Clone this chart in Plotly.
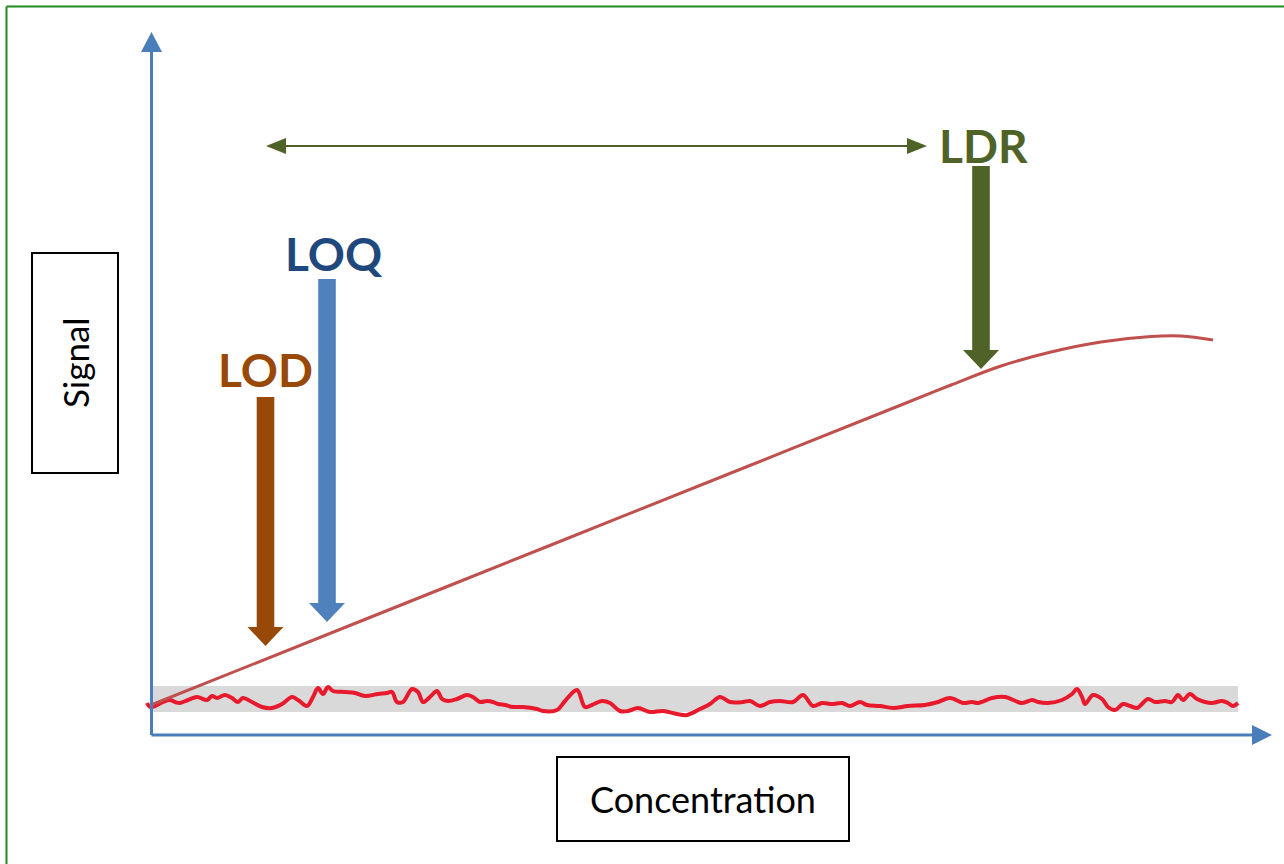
import plotly.graph_objects as go

# ---------------- data (arbitrary units: concentration, signal) ----------------
noise_conc = [-0.4, -0.1, 0.4, 1.2, 1.9, 2.4, 2.9, 3.7, 4.6, 5.6, 6.1, 6.6, 7.4, 8.1, 8.7, 9.2,
              10.1, 11.1, 12.1, 13.1, 14.1, 14.7, 15.6, 16.2, 16.7, 17.2, 17.7, 18.2, 19.4, 20.4,
              21.4, 22.7, 23.6, 24.1, 24.6, 25.2, 26.1, 26.7, 27.2, 27.9, 28.6, 29.1, 29.7, 30.6,
              31.6, 32.2, 32.9, 33.6, 34.2, 34.7, 35.4, 36.2, 37.2, 38.6, 39.2, 40.6, 41.4, 42.6,
              43.4, 44.1, 45.1, 45.9, 46.9, 47.7, 48.7, 49.9, 51.2, 52.6, 53.6, 54.9, 55.9, 56.9,
              57.9, 59.2, 59.9, 60.9, 61.9, 62.9, 64.2, 65.2, 66.2, 67.1, 68.1, 69.1, 69.9, 70.9,
              71.6, 72.9, 74.2, 75.7, 77.4, 78.7, 79.9, 81.2, 82.1, 82.7, 84.1, 85.4, 87.1, 88.1,
              88.7, 89.7, 91.1, 92.1, 92.6, 93.1, 93.4, 94.2, 95.1, 95.7, 96.4, 97.2, 97.9, 98.6,
              98.9, 99.7, 100.4, 101.4, 102.1, 102.7, 103.2, 103.9, 104.6, 105.4, 106.1, 107.1,
              107.7, 108.2, 108.7]
noise_signal = [3.3, 2.9, 3.0, 3.4, 3.6, 3.4, 3.3, 3.6, 3.9, 3.6, 4.0, 3.8, 4.1, 3.8, 3.4, 3.8,
                3.4, 2.9, 2.8, 3.2, 3.9, 3.6, 3.0, 3.9, 4.8, 4.2, 4.9, 4.5, 4.4, 4.3,
                4.0, 4.2, 4.3, 4.4, 3.4, 3.4, 4.7, 4.4, 3.4, 3.9, 4.5, 3.7, 3.5, 3.7,
                4.1, 3.9, 3.4, 3.5, 3.4, 3.2, 3.1, 2.9, 2.9, 2.7, 2.5, 2.6, 3.5, 4.6,
                2.9, 3.1, 3.5, 3.3, 2.5, 2.5, 2.8, 2.4, 2.5, 2.2, 2.1, 2.7, 3.2, 3.9,
                3.4, 3.4, 3.5, 3.0, 3.4, 3.5, 3.4, 4.1, 3.0, 3.3, 3.2, 3.3, 3.0, 3.4,
                3.1, 3.0, 2.8, 3.0, 3.1, 3.4, 3.8, 3.3, 3.4, 3.3, 3.8, 3.9, 3.3, 3.6,
                3.4, 3.3, 3.6, 4.2, 4.7, 3.9, 3.2, 4.1, 3.7, 2.9, 2.6, 3.2, 3.0, 2.8,
                3.0, 3.7, 3.4, 3.5, 3.4, 4.1, 3.6, 4.2, 3.7, 3.4, 3.3, 3.5,
                3.3, 3.0, 3.3]

curve_conc = [0.0, 20.0, 40.0, 60.0, 75.0, 80.0, 85.0, 90.0, 95.0, 100.0, 103.0, 106.2]
curve_signal = [3.1, 11.1, 19.1, 27.1, 33.1, 35.1, 37.0, 38.4, 39.4, 39.95, 40.0, 39.6]

band_conc = [0.0, 108.7]
band_signal = [2.4, 5.0]

# limit arrows: name, concentration, label/top signal, tip signal
limit_names = ["LOD", "LOQ", "LDR"]
limit_conc = [11.45, 17.6, 83.0]
limit_top = [33.9, 45.7, 57.0]
limit_tip = [9.0, 11.4, 36.7]
limit_label_pos = [(11.4, 36.7), (18.3, 48.3), (83.2, 59.1)]
limit_arrow_colors = ["#984807", "#4F81BD", "#4F6228"]
limit_text_colors = ["#984807", "#1F497D", "#4F6228"]

ldr_range_conc = [11.5, 77.6]
ldr_range_signal = 59.0

axis_x_max = 112.1
axis_y_max = 70.4

x_range = [-15.1, 113.3]
y_range = [-12.8, 73.6]

# ---------------- figure ----------------
fig = go.Figure()
shapes = []
annotations = []


def poly_path(pts):
    return "M " + " L ".join(f"{x},{y}" for x, y in pts) + " Z"


# grey noise band
shapes.append(dict(type="rect", xref="x", yref="y", x0=band_conc[0], x1=band_conc[1],
                   y0=band_signal[0], y1=band_signal[1], fillcolor="#D9D9D9",
                   line=dict(width=0), layer="below"))

# axes with arrowheads
AX = "#4A7EBB"
shapes.append(dict(type="line", xref="x", yref="y", x0=0.05, y0=0.1, x1=0.05, y1=axis_y_max - 1.8,
                   line=dict(color=AX, width=3)))
shapes.append(dict(type="path", xref="x", yref="y",
                   path=poly_path([(0.05 - 1.05, axis_y_max - 2.0), (0.05 + 1.05, axis_y_max - 2.0),
                                   (0.05, axis_y_max)]),
                   fillcolor=AX, line=dict(width=0)))
shapes.append(dict(type="line", xref="x", yref="y", x0=0.05, y0=0.1, x1=axis_x_max - 1.8, y1=0.1,
                   line=dict(color=AX, width=3)))
shapes.append(dict(type="path", xref="x", yref="y",
                   path=poly_path([(axis_x_max - 2.0, 0.1 - 1.0), (axis_x_max - 2.0, 0.1 + 1.0),
                                   (axis_x_max, 0.1)]),
                   fillcolor=AX, line=dict(width=0)))

# noise trace
fig.add_trace(go.Scatter(x=noise_conc, y=noise_signal, mode="lines",
                         line=dict(color="#E8192C", width=4, shape="spline", smoothing=1.0),
                         hoverinfo="skip", showlegend=False))
# calibration curve
fig.add_trace(go.Scatter(x=curve_conc, y=curve_signal, mode="lines",
                         line=dict(color="#C0504D", width=3, shape="spline", smoothing=1.0),
                         hoverinfo="skip", showlegend=False))

# big down arrows
SH = 0.88   # shaft half width
HH = 1.8    # head half width
HL = 1.9    # head length
for name, c, top, tip, col, tcol, (lx, ly) in zip(limit_names, limit_conc, limit_top, limit_tip,
                                                  limit_arrow_colors, limit_text_colors,
                                                  limit_label_pos):
    pts = [(c - SH, top), (c + SH, top), (c + SH, tip + HL), (c + HH, tip + HL), (c, tip),
           (c - HH, tip + HL), (c - SH, tip + HL)]
    shapes.append(dict(type="path", xref="x", yref="y", path=poly_path(pts),
                       fillcolor=col, line=dict(width=0)))
    annotations.append(dict(x=lx, y=ly, xref="x", yref="y", text=f"<b>{name}</b>",
                            showarrow=False, xanchor="center", yanchor="middle",
                            font=dict(family="Lato", size=46, color=tcol)))

# LDR double-headed arrow
G = "#4F6228"
a0, a1 = ldr_range_conc
shapes.append(dict(type="line", xref="x", yref="y", x0=a0 + 1.5, x1=a1 - 1.5,
                   y0=ldr_range_signal, y1=ldr_range_signal, line=dict(color=G, width=2)))
for tipx, d in ((a0, 1), (a1, -1)):
    shapes.append(dict(type="path", xref="x", yref="y",
                       path=poly_path([(tipx, ldr_range_signal),
                                       (tipx + d * 2.0, ldr_range_signal + 0.8),
                                       (tipx + d * 2.0, ldr_range_signal - 0.8)]),
                       fillcolor=G, line=dict(width=0)))

# label boxes
shapes.append(dict(type="rect", xref="x", yref="y", x0=-11.9, x1=-3.3, y0=26.3, y1=48.3,
                   line=dict(color="black", width=2), fillcolor="rgba(0,0,0,0)"))
annotations.append(dict(x=-7.6, y=37.3, xref="x", yref="y", text="Signal", textangle=-90,
                        showarrow=False, font=dict(family="Lato", size=35, color="black")))
shapes.append(dict(type="rect", xref="x", yref="y", x0=40.6, x1=69.8, y0=-10.5, y1=-2.1,
                   line=dict(color="black", width=2), fillcolor="rgba(0,0,0,0)"))
annotations.append(dict(x=55.2, y=-6.3, xref="x", yref="y", text="Concentration",
                        showarrow=False, font=dict(family="Lato", size=36, color="black")))

# outer green frame
shapes.append(dict(type="line", xref="paper", yref="paper", x0=6.5 / 1284, x1=1.0,
                   y0=1 - 6.5 / 864, y1=1 - 6.5 / 864, line=dict(color="#1E8C1E", width=2)))
shapes.append(dict(type="line", xref="paper", yref="paper", x0=6.5 / 1284, x1=6.5 / 1284,
                   y0=0, y1=1 - 6.5 / 864, line=dict(color="#1E8C1E", width=2)))

fig.update_layout(
    width=1284, height=864, autosize=False,
    margin=dict(l=0, r=0, t=0, b=0, pad=0),
    paper_bgcolor="white", plot_bgcolor="white",
    xaxis=dict(range=x_range, visible=False, fixedrange=True),
    yaxis=dict(range=y_range, visible=False, fixedrange=True),
    shapes=shapes, annotations=annotations,
    showlegend=False,
)

fig.write_html("out.html", config={"displayModeBar": False},
               post_script="document.documentElement.style.margin='0';"
                           "document.body.style.margin='0';"
                           "document.body.style.overflow='hidden';")
